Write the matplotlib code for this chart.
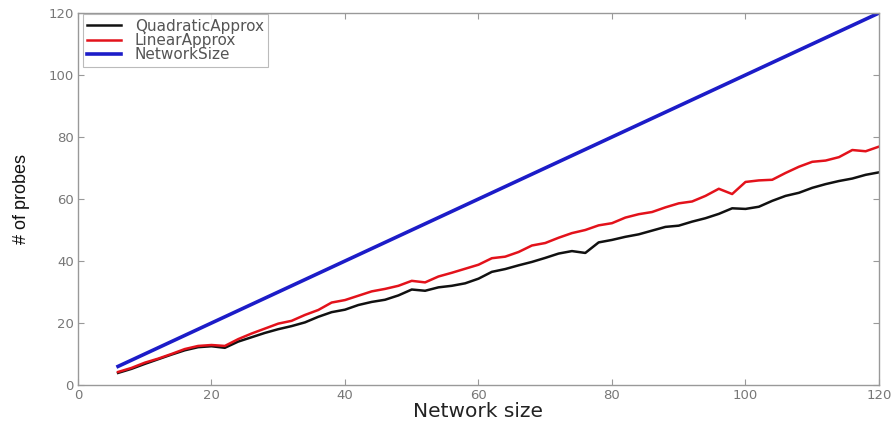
import matplotlib
matplotlib.use("Agg")
import matplotlib.pyplot as plt

x_vals = list(range(6, 121, 2))

linear_approx = [4.2, 5.5, 7.2, 8.5, 10.0, 11.6, 12.6, 12.9, 12.6, 14.8,
                 16.6, 18.2, 19.8, 20.7, 22.6, 24.2, 26.6, 27.4, 28.8, 30.2,
                 31.0, 32.0, 33.6, 33.1, 35.0, 36.2, 37.5, 38.8, 40.9, 41.4,
                 42.9, 45.0, 45.8, 47.5, 49.0, 50.0, 51.5, 52.2, 54.0, 55.1,
                 55.8, 57.3, 58.6, 59.2, 61.0, 63.3, 61.6, 65.5, 66.0, 66.2,
                 68.4, 70.4, 72.0, 72.4, 73.5, 75.8, 75.4, 76.9]

quadratic_approx = [3.9, 5.2, 6.8, 8.3, 9.8, 11.2, 12.2, 12.5, 12.0, 14.0,
                    15.4, 16.8, 18.0, 19.0, 20.2, 22.0, 23.5, 24.3, 25.8, 26.8,
                    27.5, 28.9, 30.8, 30.4, 31.5, 32.0, 32.8, 34.3, 36.5, 37.4,
                    38.6, 39.7, 41.0, 42.4, 43.2, 42.6, 46.0, 46.8, 47.8, 48.6,
                    49.8, 51.0, 51.4, 52.7, 53.8, 55.2, 57.0, 56.8, 57.5, 59.4,
                    61.0, 62.0, 63.6, 64.8, 65.8, 66.6, 67.8, 68.6]

network_size = list(x_vals)

x_ticks = [0, 20, 40, 60, 80, 100, 120]
y_ticks = [0, 20, 40, 60, 80, 100, 120]

fig = plt.figure(figsize=(8.95, 4.21), dpi=100)
ax = fig.add_axes([78/895, 1 - 385/421, (879-78)/895, (385-13)/421])

ax.plot(x_vals, quadratic_approx, color="#111111", lw=1.8, label="QuadraticApprox")
ax.plot(x_vals, linear_approx, color="#e3121b", lw=1.8, label="LinearApprox")
ax.plot(x_vals, network_size, color="#1c1cc8", lw=2.6, label="NetworkSize")

ax.set_xlim(0, 120)
ax.set_ylim(0, 120)
ax.set_xticks(x_ticks)
ax.set_yticks(y_ticks)
ax.tick_params(direction="in", length=4, width=0.8, colors="#999999",
               labelcolor="#777777", labelsize=9.5, top=True, right=True, pad=3)
for lab in ax.get_xticklabels() + ax.get_yticklabels():
    lab.set_fontfamily("DejaVu Sans")
for sp in ax.spines.values():
    sp.set_color("#999999")
    sp.set_linewidth(1.0)

ax.set_xlabel("Network size", fontsize=14.5, family="DejaVu Sans", color="#222222", labelpad=0)
ax.set_ylabel("# of probes", fontsize=13, family="Liberation Sans", color="#111111", labelpad=13)

leg = ax.legend(loc="upper left", bbox_to_anchor=(0.006, 0.997),
                prop={"family": "DejaVu Sans", "size": 11},
                frameon=True, fancybox=False, edgecolor="#aaaaaa",
                handlelength=2.2, handletextpad=0.9, labelspacing=-0.05,
                borderpad=0.3, borderaxespad=0.0)
leg.get_frame().set_linewidth(0.8)
for t in leg.get_texts():
    t.set_color("#555555")

fig.savefig("out.png", dpi=100)
